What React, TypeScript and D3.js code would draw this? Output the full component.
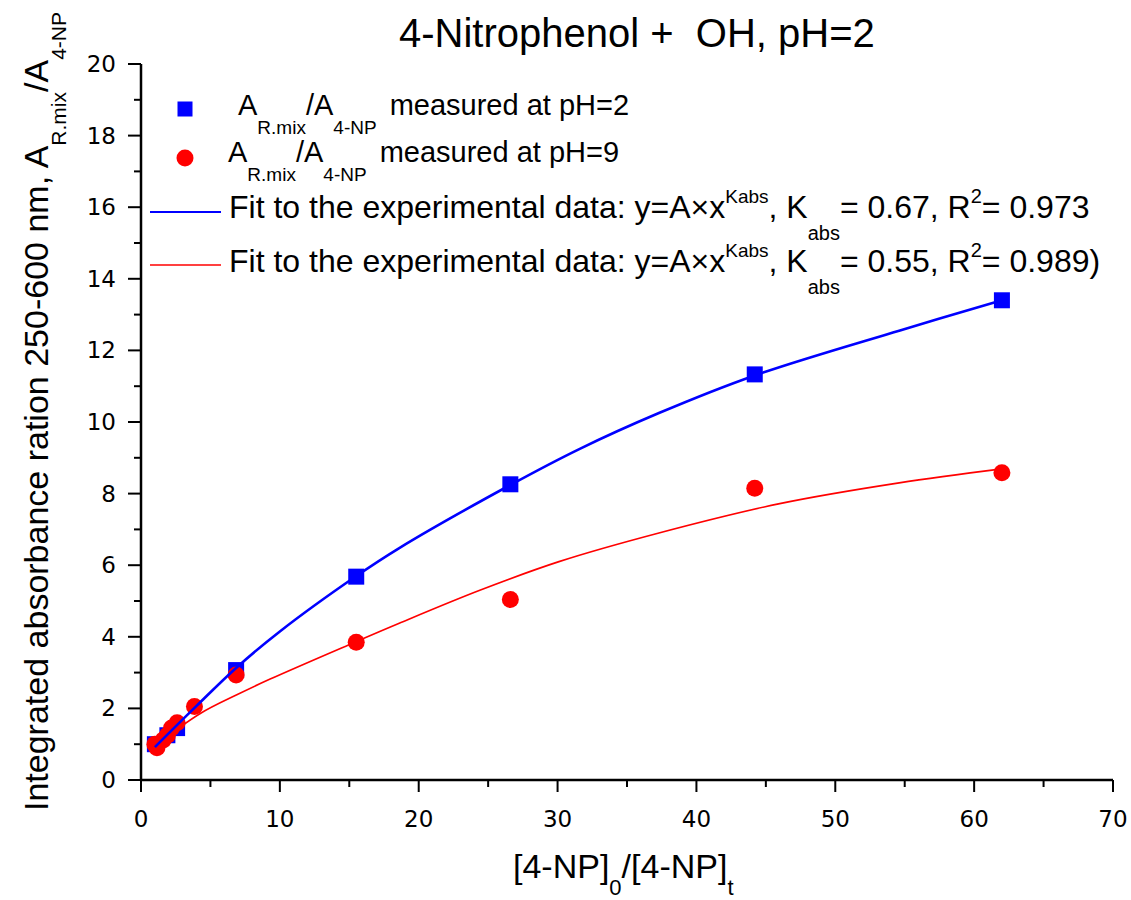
import React from 'react';
import * as d3 from 'd3';

// measured data points
const bluePtsX = [1.0, 1.9, 2.6, 6.85, 15.5, 26.6, 44.2, 62];
const bluePtsY = [1.0, 1.25, 1.45, 3.07, 5.68, 8.26, 11.33, 13.4];
const redPtsX = [1.0, 1.15, 1.6, 1.9, 2.2, 2.6, 3.85, 6.85, 15.5, 26.6, 44.2, 62];
const redPtsY = [1.0, 0.9, 1.12, 1.25, 1.45, 1.6, 2.05, 2.93, 3.85, 5.04, 8.15, 8.58];
// fit curves
const blueFitX = [1, 4, 6.85, 10, 15.4, 18.6, 26.6, 31.6, 37.3, 44.2, 54.6, 62];
const blueFitY = [0.92, 2.07, 3.13, 4.15, 5.67, 6.48, 8.24, 9.25, 10.25, 11.3, 12.55, 13.4];
const redFitX = [1, 4.24, 6.9, 9.3, 15.4, 18.6, 24.4, 30.1, 37.3, 46, 54.6, 62];
const redFitY = [0.95, 1.85, 2.38, 2.82, 3.85, 4.38, 5.3, 6.1, 6.9, 7.72, 8.3, 8.69];

const xMajor = [0, 10, 20, 30, 40, 50, 60, 70];
const xMinor = [5, 15, 25, 35, 45, 55, 65];
const yMajor = [0, 2, 4, 6, 8, 10, 12, 14, 16, 18, 20];
const yMinor = [1, 3, 5, 7, 9, 11, 13, 15, 17, 19];

const ARIAL = '"Liberation Sans", Arial, sans-serif';
const TICKFONT = '"DejaVu Sans", Verdana, sans-serif';

export default function App() {
  const W = 1131, H = 900;
  const x = d3.scaleLinear().domain([0, 70]).range([141, 1113]);
  const y = d3.scaleLinear().domain([0, 20]).range([780, 64]);

  const blueFit = blueFitX.map((v, i) => [v, blueFitY[i]] as [number, number]);
  const redFit = redFitX.map((v, i) => [v, redFitY[i]] as [number, number]);
  const line = d3.line<[number, number]>().x(d => x(d[0])).y(d => y(d[1])).curve(d3.curveCatmullRom.alpha(0.5));

  const sq = 16;
  return (
    <svg width={W} height={H} style={{ position: 'absolute', left: 0, top: 0, background: '#fff' }}
      fontFamily={ARIAL}>
      <rect x={0} y={0} width={W} height={H} fill="#fff" />
      {/* title */}
      <text x={399} y={47} fontSize={40} fill="#000" style={{ whiteSpace: 'pre' }}>{'4-Nitrophenol +  OH, pH=2'}</text>

      {/* axes */}
      <line x1={x(0)} x2={x(0)} y1={y(0) + 1} y2={y(20)} stroke="#000" strokeWidth={2.5} />
      <line x1={x(0) - 1} x2={x(70)} y1={y(0)} y2={y(0)} stroke="#000" strokeWidth={2.5} />
      {xMajor.map(t => (
        <g key={'xm' + t}>
          <line x1={x(t)} x2={x(t)} y1={y(0)} y2={y(0) + 12} stroke="#000" strokeWidth={2} />
          <text x={x(t)} y={827} fontSize={23} fontFamily={TICKFONT} textAnchor="middle">{t}</text>
        </g>
      ))}
      {xMinor.map(t => (
        <line key={'xn' + t} x1={x(t)} x2={x(t)} y1={y(0)} y2={y(0) + 7} stroke="#000" strokeWidth={2} />
      ))}
      {yMajor.map(t => (
        <g key={'ym' + t}>
          <line x1={x(0) - 13} x2={x(0)} y1={y(t)} y2={y(t)} stroke="#000" strokeWidth={2} />
          <text x={116} y={y(t)} fontSize={23} fontFamily={TICKFONT} textAnchor="end" dominantBaseline="central">{t}</text>
        </g>
      ))}
      {yMinor.map(t => (
        <line key={'yn' + t} x1={x(0) - 7} x2={x(0)} y1={y(t)} y2={y(t)} stroke="#000" strokeWidth={2} />
      ))}

      {/* axis titles */}
      <text x={513} y={878} fontSize={34}>
        [4-NP]<tspan fontSize={22} dy={17}>0</tspan><tspan dy={-17}>/[4-NP]</tspan><tspan fontSize={22} dy={17}>t</tspan>
      </text>
      <text transform="translate(48,811) rotate(-90)" x={0} y={0} fontSize={34}>
        Integrated absorbance ration 250-600 nm, A<tspan fontSize={21} dy={18}>R.mix</tspan><tspan dy={-18}>/A</tspan><tspan fontSize={21} dy={18}>4-NP</tspan>
      </text>

      {/* data */}
      {bluePtsX.map((v, i) => (
        <rect key={'b' + i} x={x(v) - sq / 2} y={y(bluePtsY[i]) - sq / 2} width={sq} height={sq} fill="#0000ff" />
      ))}
      {redPtsX.map((v, i) => (
        <circle key={'r' + i} cx={x(v)} cy={y(redPtsY[i])} r={8.5} fill="#ff0000" />
      ))}
      <path d={line(redFit) || ''} fill="none" stroke="#ff0000" strokeWidth={1.6} />
      <path d={line(blueFit) || ''} fill="none" stroke="#0000ff" strokeWidth={2.6} />

      {/* legend */}
      <rect x={185 - 7.5} y={109 - 7.5} width={15} height={15} fill="#0000ff" />
      <text x={238} y={115} fontSize={29} style={{ whiteSpace: 'pre' }}>
        A<tspan fontSize={19} dy={19}>R.mix</tspan><tspan dy={-19}>/A</tspan><tspan fontSize={19} dy={19}>4-NP</tspan><tspan dy={-19} dx={5}>{' measured at pH=2'}</tspan>
      </text>
      <circle cx={185} cy={158} r={8.5} fill="#ff0000" />
      <text x={228} y={162} fontSize={29} style={{ whiteSpace: 'pre' }}>
        A<tspan fontSize={19} dy={19}>R.mix</tspan><tspan dy={-19}>/A</tspan><tspan fontSize={19} dy={19}>4-NP</tspan><tspan dy={-19} dx={5}>{' measured at pH=9'}</tspan>
      </text>
      <line x1={150} x2={221} y1={212} y2={212} stroke="#0000ff" strokeWidth={2.2} />
      <text x={229} y={218} fontSize={32}>
        Fit to the experimental data: y=A×x<tspan fontSize={19} dy={-15}>Kabs</tspan><tspan dy={15}>, K</tspan><tspan fontSize={20} dy={22}>abs</tspan><tspan dy={-22}>= 0.67, R</tspan><tspan fontSize={20} dy={-15}>2</tspan><tspan dy={15}>= 0.973</tspan>
      </text>
      <line x1={150} x2={221} y1={265} y2={265} stroke="#ff0000" strokeWidth={1.6} />
      <text x={229} y={272} fontSize={32}>
        Fit to the experimental data: y=A×x<tspan fontSize={19} dy={-15}>Kabs</tspan><tspan dy={15}>, K</tspan><tspan fontSize={20} dy={22}>abs</tspan><tspan dy={-22}>= 0.55, R</tspan><tspan fontSize={20} dy={-15}>2</tspan><tspan dy={15}>= 0.989)</tspan>
      </text>
    </svg>
  );
}
